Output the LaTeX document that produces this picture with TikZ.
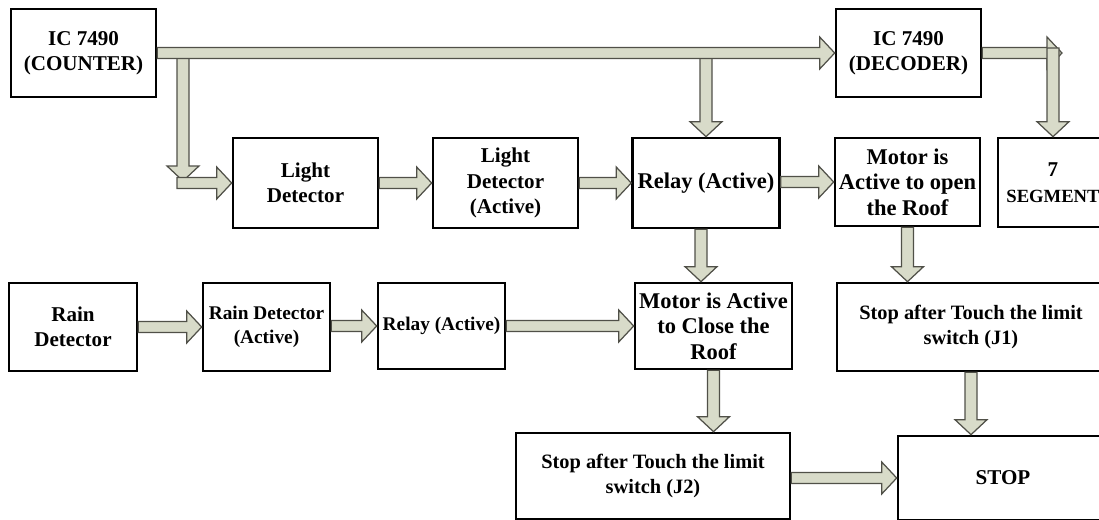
\documentclass[tikz,border=0pt]{standalone}
\usepackage{fontspec}
\setmainfont{Liberation Serif}
\usetikzlibrary{calc}

\definecolor{arrfill}{RGB}{216,219,201}
\definecolor{arrline}{RGB}{80,80,72}

% fat block arrows: start point, end point
\newcommand{\fatright}[2]{%
  \draw[fat] let \p1=#1, \p2=#2 in
    (\x1,\y2+0.11cm) -- (\x2-0.3cm,\y2+0.11cm) -- (\x2-0.3cm,\y2+0.32cm) -- (\x2,\y2)
    -- (\x2-0.3cm,\y2-0.32cm) -- (\x2-0.3cm,\y2-0.11cm) -- (\x1,\y2-0.11cm) -- cycle;}
\newcommand{\fatdown}[2]{%
  \draw[fat] let \p1=#1, \p2=#2 in
    (\x1-0.12cm,\y1) -- (\x1-0.12cm,\y2+0.3cm) -- (\x1-0.32cm,\y2+0.3cm) -- (\x1,\y2)
    -- (\x1+0.32cm,\y2+0.3cm) -- (\x1+0.12cm,\y2+0.3cm) -- (\x1+0.12cm,\y1) -- cycle;}

\begin{document}
\begin{tikzpicture}[x=0.02cm, y=-0.02cm,
        box/.style={rectangle, draw, line width=1.5pt, fill=white, align=center, inner sep=1pt, font=\bfseries\fontsize{12}{14.5}\selectfont},
        big/.style={font=\bfseries\fontsize{12.8}{14.5}\selectfont},
        small/.style={font=\bfseries\fontsize{11}{14}\selectfont},
        tiny/.style={font=\bfseries\fontsize{11.6}{14.2}\selectfont},
        fat/.style={draw=arrline, fill=arrfill, line width=0.7pt, line join=miter}
    ]

    \useasboundingbox (0,0) rectangle (1099,520);

    % Top row
    \node[box, minimum width=2.9cm, minimum height=1.76cm] (counter) at (83.5,53) {IC 7490\\(COUNTER)};
    \node[box, minimum width=2.9cm, minimum height=1.76cm] (decoder) at (908.5,53) {IC 7490\\(DECODER)};

    % Light row
    \node[box, minimum width=2.9cm, minimum height=1.8cm] (ld) at (305.5,183) {Light\\Detector};
    \node[box, minimum width=2.9cm, minimum height=1.8cm] (ldact) at (505.5,183) {Light\\Detector\\(Active)};
    \node[box, big, minimum width=2.94cm, minimum height=1.8cm] (relayA) at (706,183) {Relay (Active)};
    \node[box, big, minimum width=2.9cm, minimum height=1.76cm] (open) at (907.5,182) {Motor is\\Active to open\\the Roof};
    \node[box, minimum width=2.2cm, minimum height=1.78cm] (seg) at (1053,182.5) {7\\{\fontsize{10.6}{12}\selectfont SEGMENT}};

    % Rain row
    \node[box, minimum width=2.56cm, minimum height=1.76cm] (rain) at (73,327) {Rain\\Detector};
    \node[box, small, minimum width=2.54cm, minimum height=1.76cm] (rdact) at (266.5,327) {Rain Detector\\(Active)};
    \node[box, small, minimum width=2.54cm, minimum height=1.72cm] (relayB) at (441.5,326) {Relay (Active)};
    \node[box, big, minimum width=3.14cm, minimum height=1.72cm] (close) at (713.5,326) {Motor is Active\\to Close the\\Roof};
    \node[box, tiny, minimum width=5.36cm, minimum height=1.76cm] (j1) at (971,327) {Stop after Touch the limit\\switch (J1)};

    % Bottom row
    \node[box, tiny, minimum width=5.48cm, minimum height=1.72cm] (j2) at (653,476) {Stop after Touch the limit\\switch (J2)};
    \node[box, minimum width=4.2cm, minimum height=1.68cm] (stop) at (1003,478) {STOP};

    % branch points
    \coordinate (tapA) at (183,53);
    \coordinate (bendA) at (183,181);
    \coordinate (tapB) at (706,53);
    \coordinate (tapC) at (1053,48);
    \coordinate (endC) at (1062,53);

    % Arrows
    \fatdown{(tapA)}{(bendA)}
    \fatdown{(tapB)}{(relayA.north)}
    \fatright{(counter.east)}{(decoder.west)}
    \fatright{([xshift=-0.12cm]bendA)}{(ld.west)}
    \fatright{(decoder.east)}{(endC)}
    \fatdown{(tapC)}{(seg.north)}

    \fatright{(ld.east)}{(ldact.west)}
    \fatright{(ldact.east)}{(relayA.west)}
    \fatright{(relayA.east)}{(open.west)}
    \fatdown{([xshift=-0.1cm]relayA.south)}{(close.north)}
    \fatdown{(open.south)}{(j1.north)}

    \fatright{(rain.east)}{(rdact.west)}
    \fatright{(rdact.east)}{(relayB.west)}
    \fatright{(relayB.east)}{(close.west)}
    \fatdown{(close.south)}{(j2.north)}
    \fatdown{(j1.south)}{(stop.north)}
    \fatright{(j2.east)}{(stop.west)}

\end{tikzpicture}
\end{document}
